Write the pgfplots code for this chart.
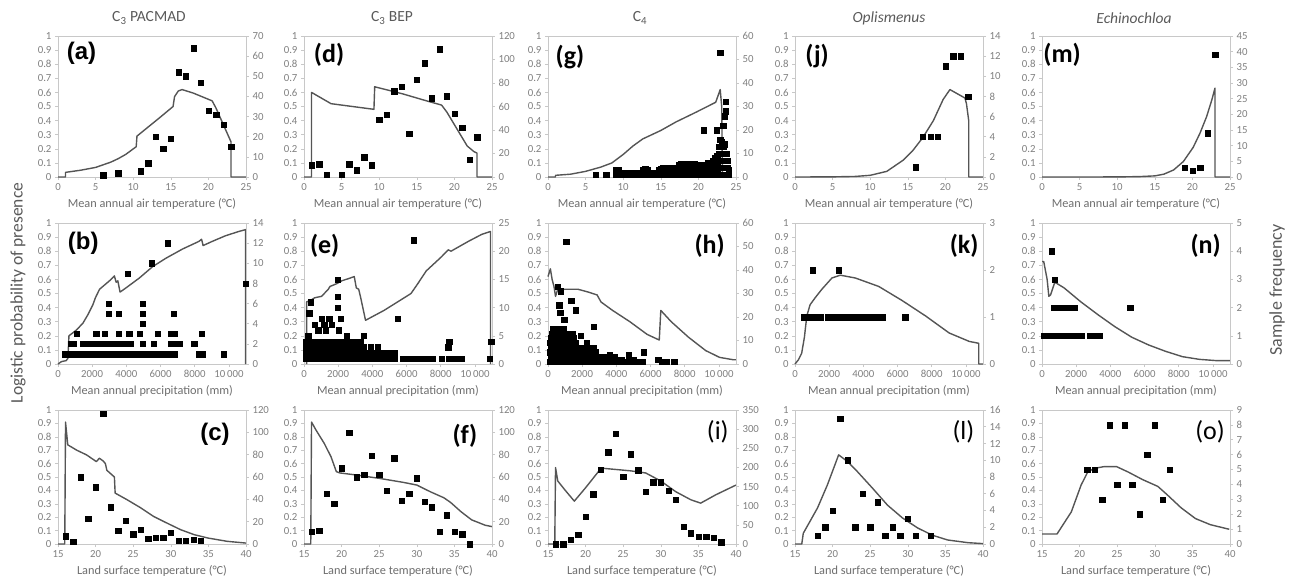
\documentclass[border=0pt]{standalone}
\usepackage{fontspec}
\setmainfont{Carlito}
\newfontfamily\arial{Liberation Sans}
\usepackage{pgfplots}
\pgfplotsset{compat=1.18}
\definecolor{axgray}{HTML}{C8C8C8}
\definecolor{tickgray}{HTML}{808080}
\definecolor{labgray}{HTML}{6E6E6E}
\definecolor{titlegray}{HTML}{5A5A5A}
\definecolor{linegray}{HTML}{555555}
\newcommand\ticksize{\fontsize{10.8}{12}\selectfont}
\newcommand\labsize{\fontsize{12.3}{14}\selectfont}
\tikzset{
 labA/.style={font=\arial\bfseries\fontsize{24}{28}\selectfont, anchor=center},
 labB/.style={font=\bfseries\fontsize{26}{30}\selectfont, anchor=center},
 labC/.style={font=\fontsize{26}{30}\selectfont, anchor=center},
}
\pgfplotsset{
 common/.style={scale only axis, width=188pt, anchor=south west, clip=false, ymin=0,
   axis line style={draw=axgray, line width=0.9pt},
   tick style={draw=axgray, line width=0.6pt}, tick align=outside, major tick length=3pt,
   tick label style={font=\ticksize, text=tickgray},
   /pgf/number format/fixed, /pgf/number format/assume math mode=true, scaled ticks=false},
 L/.style={common, ymax=1, ytick={0,0.1,0.2,0.3,0.4,0.5,0.6,0.7,0.8,0.9,1}, tick pos=left,
   xlabel style={font=\labsize, text=labgray, at={(axis description cs:0.5,0)}, anchor=center, yshift=-27pt}},
 R/.style={common, hide x axis, axis y line*=right},
 row1/.style={height=141pt, xmin=0, xmax=25, xtick={0,5,10,15,20,25}},
 row2/.style={height=141pt, xmin=0, xmax=11000, xtick={0,2000,4000,6000,8000,10000}, xticklabels={0,2000,4000,6000,8000,10\,000}},
 row3/.style={height=134pt, xmin=15, xmax=40, xtick={15,20,25,30,35,40}},
 ln/.style={draw=linegray, line width=1.4pt, mark=none, line join=round},
 pt/.style={only marks, mark=square*, mark size=2.7pt, mark options={fill=black, draw=black, line width=0.2pt}},
}
\begin{document}
\begin{tikzpicture}
\path[use as bounding box] (0,0) rectangle (1290pt,-582pt);
\begin{scope}[every node/.style={font=\fontsize{15.5}{17}\selectfont, text=titlegray}]
\node at (149pt,-18pt) {C\textsubscript{3} PACMAD};
\node at (392pt,-18pt) {C\textsubscript{3} BEP};
\node at (640pt,-18pt) {C\textsubscript{4}};
\node at (889pt,-18pt) {\itshape Oplismenus};
\node at (1134pt,-18pt) {\itshape Echinochloa};
\end{scope}
\node[rotate=90, font=\fontsize{17.5}{20}\selectfont, text=titlegray] at (18pt,-293pt) {Logistic probability of presence};
\node[rotate=90, font=\fontsize{18}{20}\selectfont, text=titlegray] at (1277pt,-290pt) {Sample frequency};

% ---------- (a)
\begin{axis}[L,row1,at={(58pt,-177pt)},xlabel={Mean annual air temperature (°C)}]
\addplot[ln] coordinates {(0,0)(1,0)(1,0.033)(3,0.048)(5,0.068)(7,0.105)(8,0.13)(9,0.16)(10.4,0.215)(10.5,0.29)(12,0.355)(13.5,0.42)(15.3,0.5)(15.5,0.57)(16,0.61)(16.5,0.62)(18,0.595)(20.5,0.54)(21,0.49)(21.5,0.43)(22,0.37)(22.5,0.31)(23,0.25)(23,0)(25,0)};
\node[labA] at (rel axis cs:0.125,0.88) {(a)};
\end{axis}
\begin{axis}[R,row1,at={(58pt,-177pt)},ymax=70,ytick distance=10]
\addplot[pt] coordinates {(6,1)(8,2)(11,3)(12,7)(13,20)(14,14)(15,19)(16,52)(17,50)(18,64)(19,47)(20,33)(21,31)(22,26)(23,15)};
\end{axis}
% ---------- (b)
\begin{axis}[L,row2,at={(58pt,-364pt)},xlabel={Mean annual precipitation (mm)}]
\addplot[ln] coordinates {(0,0)(200,0.017)(480,0.024)(580,0.04)(640,0.2)(1070,0.24)(1460,0.29)(1750,0.35)(2040,0.42)(2190,0.47)(2430,0.53)(2720,0.56)(3010,0.59)(3300,0.625)(3400,0.58)(3500,0.59)(3630,0.51)(3980,0.54)(4760,0.61)(5530,0.69)(6310,0.75)(7280,0.815)(8250,0.87)(8400,0.885)(8490,0.84)(9030,0.87)(9810,0.91)(10580,0.94)(10970,0.953)(10970,0)};
\node[labA] at (rel axis cs:0.134,0.856) {(b)};
\end{axis}
\begin{axis}[R,row2,at={(58pt,-364pt)},ymax=14,ytick distance=2]
\addplot[pt] coordinates {(400,1)(600,1)(800,1)(1000,1)(1200,1)(1400,1)(1600,1)(1800,1)(2000,1)(2200,1)(2400,1)(2600,1)(2800,1)(3000,1)(3200,1)(3400,1)(3600,1)(3800,1)(4000,1)(4200,1)(4400,1)(4600,1)(4800,1)(5000,1)(5200,1)(5400,1)(5600,1)(5800,1)(6000,1)(6200,1)(6400,1)(6550,1)(6800,1)(8250,1)(8450,1)(9700,1)
(720,2)(910,2)(1460,2)(1660,2)(1860,2)(2060,2)(2260,2)(2460,2)(2660,2)(2860,2)(3060,2)(3260,2)(3460,2)(3660,2)(3860,2)(4060,2)(4210,2)(4950,2)(5590,2)(6600,2)(6850,2)(7090,2)(7960,2)
(1100,3)(2230,3)(2720,3)(3550,3)(4170,3)(4760,3)(5830,3)(6600,3)(6800,3)(8390,3)
(4950,4)(2970,5)(3550,5)(4950,5)(6760,5)(2970,6)(4950,6)(4080,9)(5460,10)(6410,12)(10970,8)};
\end{axis}
% ---------- (c)
\begin{axis}[L,row3,at={(58pt,-544pt)},xlabel={Land surface temperature (°C)}]
\addplot[ln] coordinates {(15,0)(15.9,0)(16,0.91)(16.3,0.74)(17.5,0.70)(18.8,0.665)(20.1,0.615)(20.5,0.64)(21,0.62)(21.3,0.60)(21.5,0.55)(22.1,0.52)(22.5,0.5)(22.6,0.38)(24.2,0.33)(26,0.27)(27.7,0.206)(29.5,0.156)(31.3,0.107)(33.1,0.07)(34.9,0.045)(37.5,0.02)(40,0.007)};
\node[labA] at (rel axis cs:0.835,0.82) {(c)};
\end{axis}
\begin{axis}[R,row3,at={(58pt,-544pt)},ymax=120,ytick distance=20]
\addplot[pt] coordinates {(16,7)(17,2)(18,60)(19,23)(20,51)(21,117)(22,33)(23,12)(24,21)(25,9)(26,13)(27,5)(28,6)(29,6)(30,10)(31,3)(32,3)(33,4)(34,3)};
\end{axis}
% ---------- (d)
\begin{axis}[L,row1,at={(304pt,-177pt)},xlabel={Mean annual air temperature (°C)}]
\addplot[ln] coordinates {(0,0)(1,0)(1,0.6)(3.6,0.52)(9.3,0.48)(9.4,0.64)(13.1,0.59)(16.3,0.54)(18.3,0.51)(19,0.46)(19.9,0.38)(20.8,0.30)(21.7,0.22)(22.6,0.18)(23,0.17)(23,0)(25,0)};
\node[labB] at (rel axis cs:0.133,0.865) {(d)};
\end{axis}
\begin{axis}[R,row1,at={(304pt,-177pt)},ymax=120,ytick distance=20]
\addplot[pt] coordinates {(1,10)(2,11)(3,2)(5,2)(6,11)(7,6)(8,17)(9,10)(10,49)(11,53)(12,73)(13,77)(14,37)(15,83)(16,97)(17,67)(18,109)(19,69)(20,54)(21,42)(22,15)(23,34)};
\end{axis}
% ---------- (e)
\begin{axis}[L,row2,at={(304pt,-364pt)},xlabel={Mean annual precipitation (mm)}]
\addplot[ln] coordinates {(150,0)(150,0.44)(430,0.455)(630,0.47)(1030,0.48)(1420,0.53)(1520,0.55)(1920,0.57)(2210,0.59)(2710,0.61)(2940,0.62)(3060,0.54)(3200,0.53)(3300,0.48)(3600,0.31)(4680,0.38)(5670,0.455)(6260,0.50)(6660,0.57)(7150,0.66)(8040,0.76)(8440,0.81)(8600,0.80)(9620,0.87)(10410,0.92)(10910,0.94)(10910,0)};
\node[labB] at (rel axis cs:0.11,0.84) {(e)};
\end{axis}
\begin{axis}[R,row2,at={(304pt,-364pt)},ymax=25,ytick distance=5]
\addplot[pt] coordinates {(100,1)(300,1)(500,1)(700,1)(900,1)(1100,1)(1300,1)(1500,1)(1700,1)(1900,1)(2100,1)(2300,1)(2500,1)(2700,1)(2900,1)(3100,1)(3300,1)(3500,1)(3700,1)(3900,1)(4100,1)(4300,1)(4500,1)(4700,1)(4900,1)(5100,1)(5300,1)(5800,1)(6000,1)(6200,1)(6400,1)(6600,1)(6800,1)(7100,1)(7300,1)(7500,1)(8040,1)(8450,1)(8650,1)(8850,1)(9050,1)(9200,1)(10850,1)
(100,2)(300,2)(500,2)(700,2)(900,2)(1100,2)(1300,2)(1500,2)(1700,2)(1900,2)(2100,2)(2300,2)(2500,2)(2700,2)(2900,2)(3100,2)(3300,2)(3500,2)(3700,2)(3900,2)(4100,2)(4300,2)(4500,2)(4700,2)(4900,2)(5100,2)(5300,2)
(100,3)(300,3)(500,3)(700,3)(900,3)(1100,3)(1300,3)(1500,3)(1700,3)(1900,3)(2100,3)(2300,3)(2500,3)(2700,3)(2900,3)(3100,3)(3300,3)(3500,3)(3900,3)(4300,3)
(100,4)(300,4)(500,4)(700,4)(900,4)(1100,4)(1300,4)(1500,4)(1700,4)(1900,4)(2100,4)(2300,4)(2500,4)(2700,4)(2900,4)(3100,4)(3300,4)
(240,5)(2500,5)(3500,5)(300,9)(400,11)(630,7)(830,6)(1030,8)(1170,7)(1280,6)(1480,8)(1620,7)(1960,15)(1960,12)(1960,10)(2020,6)(2150,8)(5470,8)(6420,22)(8440,3)(8480,4)(10950,4)};
\end{axis}
% ---------- (f)
\begin{axis}[L,row3,at={(304pt,-544pt)},xlabel={Land surface temperature (°C)}]
\addplot[ln] coordinates {(15,0)(15.9,0)(16,0.91)(16.6,0.85)(17.7,0.75)(18.6,0.65)(19.3,0.54)(19.8,0.53)(21.8,0.516)(25,0.49)(28.2,0.46)(30,0.44)(31.8,0.39)(33.6,0.345)(34.5,0.31)(35.9,0.24)(37.3,0.18)(39.1,0.14)(40,0.13)};
\node[labB] at (rel axis cs:0.856,0.81) {(f)};
\end{axis}
\begin{axis}[R,row3,at={(304pt,-544pt)},ymax=120,ytick distance=20]
\addplot[pt] coordinates {(16,11)(17,12)(18,45)(19,36)(20,68)(21,100)(22,60)(23,62)(24,79)(25,62)(26,48)(27,77)(28,39)(29,45)(30,59)(31,38)(32,33)(33,11)(34,26)(35,11)(36,9)(37,0)};
\end{axis}
% ---------- (g)
\begin{axis}[L,row1,at={(548pt,-177pt)},xlabel={Mean annual air temperature (°C)}]
\addplot[ln] coordinates {(0,0)(1,0)(1,0.012)(3,0.02)(5,0.04)(7,0.07)(8.5,0.1)(10,0.16)(11.3,0.22)(12.6,0.27)(15,0.33)(17,0.39)(19.7,0.46)(22.3,0.53)(22.9,0.62)(23.1,0.5)(23.2,0)};
\node[labB] at (rel axis cs:0.117,0.85) {(g)};
\end{axis}
\begin{axis}[R,row1,at={(548pt,-177pt)},ymax=60,ytick distance=10]
\addplot[pt] coordinates {(6.3,1)(7.7,1)
(9.0,1)(9.0,3)(9.3,1)(9.3,3)(9.6,1)(9.9,1)(9.9,2)(10.2,1)(10.5,1)(10.5,2)(10.8,1)(11.1,1)(11.1,2)(11.4,1)(11.7,1)(11.7,2)(12.0,1)(12.3,1)(12.3,2)(12.6,1)(12.6,3)(12.9,1)(12.9,3.5)(13.2,1)(13.2,3)(13.5,1)(13.5,2)(13.8,1)(13.8,2)(14.1,1)(14.1,2)(14.4,1)(14.4,2)(14.7,1)(14.7,3)(15.0,1)(15.0,3.5)(15.3,1)(15.3,4)(15.6,1)(15.6,3)(15.9,1)(15.9,4)(16.2,1)(16.2,3)(16.5,1)(16.5,4)(16.8,1)(16.8,3)(17.1,1)(17.1,4)(17.4,1)(17.4,5)(17.7,1)(17.7,3)(17.7,5.5)(18.0,1)(18.0,3)(18.0,5)(18.3,1)(18.3,4)(18.6,1)(18.6,3)(18.6,5.5)(18.9,1)(18.9,3)(18.9,5.5)(19.2,1)(19.2,3)(19.2,5)(19.5,1)(19.5,3)(19.5,5.5)(19.8,1)(19.8,3)(19.8,5)(20.1,1)(20.1,3)(20.1,5)(20.4,1)(20.4,3)(20.4,5)(20.7,1)(20.7,3)(20.7,5)(21.0,1)(21.0,3)(21.0,5)(21.3,1)(21.3,3)(21.3,6)(21.6,1)(21.6,3)(21.6,6)(21.9,1)(21.9,3)(21.9,5)(21.9,7)(22.2,1)(22.2,3)(22.2,6)(22.2,8)(22.5,1)(22.5,3)(22.5,6)(22.5,9)(22.7,1)(22.7,4)(22.7,7)(22.7,10)(22.7,13)(22.9,1)(22.9,4)(22.9,7)(22.9,10)(22.9,13)(22.9,16)(23.1,1)(23.1,4)(23.1,7)(23.1,10)(23.1,13)(23.1,15)(23.3,1)(23.3,4)(23.3,7)(23.3,10)(23.3,13)(23.5,1)(23.5,4)(23.5,7)(23.5,10)(23.5,14)(23.7,1)(23.7,4)(23.7,7)(23.7,10)(23.9,1)(23.9,4)(23.9,7)(24.0,1)(24.0,3)
(20.7,20)(22.4,20)(22.9,53)(23.3,22)(23.5,26)(23.6,28)(23.6,32)};
\end{axis}
% ---------- (h)
\begin{axis}[L,row2,at={(548pt,-364pt)},xlabel={Mean annual precipitation (mm)}]
\addplot[ln] coordinates {(0,0.62)(140,0.675)(240,0.6)(350,0.55)(440,0.48)(545,0.52)(950,0.53)(1760,0.53)(2360,0.51)(2870,0.49)(3010,0.46)(3100,0.44)(3780,0.38)(4790,0.30)(5800,0.21)(6510,0.17)(6600,0.38)(7210,0.30)(8220,0.19)(9230,0.095)(10040,0.047)(10850,0.03)(11000,0.03)};
\node[labB] at (rel axis cs:0.86,0.84) {(h)};
\end{axis}
\begin{axis}[R,row2,at={(548pt,-364pt)},ymax=60,ytick distance=10]
\addplot[pt] coordinates {(100,1)(250,1)(400,1)(550,1)(700,1)(850,1)(1000,1)(1150,1)(1300,1)(1450,1)(1600,1)(1750,1)
(150,3)(300,3)(450,3)(600,3)(750,3)(900,3)(1050,3)(1200,3)(1350,3)(1500,3)(1650,3)
(100,5)(250,5)(400,5)(550,5)(700,5)(850,5)(1000,5)(1150,5)(1300,5)(1450,5)(1600,5)(1750,5)
(150,7)(300,7)(450,7)(600,7)(750,7)(900,7)(1050,7)(1200,7)(1350,7)(1500,7)(1650,7)
(100,9)(250,9)(400,9)(550,9)(700,9)(850,9)(1000,9)(1150,9)(1300,9)(1450,9)(1600,9)
(150,11)(300,11)(450,11)(600,11)(750,11)(900,11)(1050,11)(1200,11)(1350,11)(1500,11)
(250,13)(400,13)(550,13)(700,13)(850,13)(1000,13)(1300,13)(1450,13)(650,15)(900,15)
(1900,1)(2050,1)(2200,1)(2350,1)(2500,1)(2650,1)(2800,1)(2950,1)
(1950,3)(2100,3)(2250,3)(2400,3)(2550,3)(2700,3)(2850,3)
(1900,5)(2050,5)(2200,5)(2350,5)(2500,5)(2650,5)(2800,5)
(1950,7)(2100,7)(2350,7)(2650,7)(2250,9)
(3100,1)(3250,1)(3400,1)(3550,1)(3700,1)(3850,1)(4000,1)(3150,3)(3300,3)(3450,3)(3600,4)(3750,3)(3900,3)(4050,2)
(4150,1)(4300,1)(4450,1)(4600,1)(4750,1)(4900,1)(5100,1)(4300,2)(4750,2)(5000,2)(5300,1)(5500,1)
(545,33)(750,31)(650,25)(700,22)(950,19)(1350,27)(1600,23)(1110,13)(1920,12)(2670,16)(1050,52)(300,15)(4700,4)(5600,5)(6450,2)(6650,1)(6900,1)(7370,1)};
\end{axis}
% ---------- (i)
\begin{axis}[L,row3,at={(548pt,-544pt)},xlabel={Land surface temperature (°C)}]
\addplot[ln] coordinates {(15,0)(15.9,0)(16,0.57)(16.3,0.47)(17.3,0.40)(18.5,0.32)(20,0.42)(21.7,0.54)(22.3,0.565)(23.3,0.56)(26,0.546)(28,0.53)(30,0.47)(32,0.39)(34,0.33)(35.3,0.305)(37.3,0.367)(40,0.44)};
\node[labC] at (rel axis cs:0.903,0.84) {(i)};
\end{axis}
\begin{axis}[R,row3,at={(548pt,-544pt)},ymax=350,ytick distance=50]
\addplot[pt] coordinates {(16,0)(17,0)(18,11)(19,24)(20,72)(21,130)(22,195)(23,240)(24,289)(25,176)(26,235)(27,193)(28,137)(29,162)(30,162)(31,139)(32,116)(33,46)(34,29)(35,20)(36,20)(37,16)(38,5)};
\end{axis}
% ---------- (j)
\begin{axis}[L,row1,at={(795pt,-177pt)},xlabel={Mean annual air temperature (°C)}]
\addplot[ln] coordinates {(0,0)(5,0.001)(8,0.004)(10,0.012)(12.2,0.04)(14.4,0.12)(15.7,0.19)(17,0.28)(18.4,0.40)(19.7,0.55)(20.6,0.62)(22.6,0.56)(22.8,0.52)(23.1,0.40)(23.1,0)(25,0)};
\node[labB] at (rel axis cs:0.117,0.86) {(j)};
\end{axis}
\begin{axis}[R,row1,at={(795pt,-177pt)},ymax=14,ytick distance=2]
\addplot[pt] coordinates {(16,1)(17,4)(18,4)(19,4)(20,11)(21,12)(22,12)(23,8)};
\end{axis}
% ---------- (k)
\begin{axis}[L,row2,at={(795pt,-364pt)},xlabel={Mean annual precipitation (mm)}]
\addplot[ln] coordinates {(0,0)(200,0.03)(390,0.076)(550,0.19)(690,0.34)(880,0.42)(1180,0.47)(1570,0.53)(2160,0.61)(2650,0.63)(3530,0.61)(4900,0.55)(6270,0.45)(7650,0.34)(9020,0.22)(10200,0.16)(10750,0.147)(10750,0)(11000,0)};
\node[labB] at (rel axis cs:0.9,0.84) {(k)};
\end{axis}
\begin{axis}[R,row2,at={(795pt,-364pt)},ymax=3,ytick distance=1]
\addplot[pt] coordinates {(500,1)(700,1)(900,1)(1100,1)(1300,1)(1500,1)(1900,1)(2100,1)(2300,1)(2500,1)(2700,1)(2900,1)(3100,1)(3300,1)(3500,1)(3700,1)(3900,1)(4100,1)(4500,1)(4700,1)(4900,1)(5100,1)(6430,1)(1040,2)(2550,2)};
\end{axis}
% ---------- (l)
\begin{axis}[L,row3,at={(795pt,-544pt)},xlabel={Land surface temperature (°C)}]
\addplot[ln] coordinates {(15,0)(15.9,0)(16.1,0.08)(17,0.17)(18,0.27)(19.3,0.44)(20.3,0.59)(20.8,0.665)(22,0.615)(23.3,0.54)(25.3,0.417)(27.3,0.29)(29.3,0.194)(31.3,0.12)(33.3,0.065)(35.3,0.03)(38,0.01)(40,0.003)};
\node[labC] at (rel axis cs:0.896,0.84) {(l)};
\end{axis}
\begin{axis}[R,row3,at={(795pt,-544pt)},ymax=16,ytick distance=2]
\addplot[pt] coordinates {(18,1)(19,2)(20,4)(21,15)(22,10)(23,2)(24,6)(25,2)(26,5)(27,1)(28,2)(29,1)(30,3)(31,1)(33,1)};
\end{axis}
% ---------- (m)
\begin{axis}[L,row1,at={(1042pt,-177pt)},xlabel={Mean annual air temperature (°C)}]
\addplot[ln] coordinates {(0,0)(10,0.0005)(13,0.003)(15,0.008)(16.2,0.02)(17.5,0.05)(18.8,0.11)(20.1,0.21)(21,0.31)(21.9,0.43)(22.6,0.55)(23,0.63)(23,0)(25,0)};
\node[labB] at (rel axis cs:0.107,0.865) {(m)};
\end{axis}
\begin{axis}[R,row1,at={(1042pt,-177pt)},ymax=45,ytick distance=5]
\addplot[pt] coordinates {(19,3)(20,2)(21,3)(22,14)(23,39)};
\end{axis}
% ---------- (n)
\begin{axis}[L,row2,at={(1042pt,-364pt)},xlabel={Mean annual precipitation (mm)}]
\addplot[ln] coordinates {(0,0.727)(100,0.727)(300,0.6)(400,0.48)(500,0.49)(750,0.58)(1290,0.54)(2280,0.44)(3270,0.35)(4260,0.265)(5250,0.19)(6240,0.135)(7230,0.09)(8220,0.052)(9210,0.033)(10200,0.024)(11000,0.024)};
\node[labB] at (rel axis cs:0.87,0.84) {(n)};
\end{axis}
\begin{axis}[R,row2,at={(1042pt,-364pt)},ymax=5,ytick distance=1]
\addplot[pt] coordinates {(100,1)(300,1)(500,1)(700,1)(900,1)(1100,1)(1300,1)(1500,1)(1700,1)(1900,1)(2100,1)(2300,1)(2770,1)(3170,1)(3370,1)(700,2)(900,2)(1100,2)(1300,2)(1500,2)(1700,2)(1880,2)(5150,2)(730,3)(550,4)};
\end{axis}
% ---------- (o)
\begin{axis}[L,row3,at={(1042pt,-544pt)},xlabel={Land surface temperature (°C)}]
\addplot[ln] coordinates {(15,0.075)(17,0.075)(18.9,0.24)(20.2,0.44)(21.1,0.54)(22,0.565)(23.3,0.578)(24.9,0.578)(26.5,0.536)(28.4,0.48)(30.4,0.43)(31.6,0.37)(33.5,0.27)(35.4,0.19)(37.4,0.144)(39.9,0.11)};
\node[labC] at (rel axis cs:0.894,0.84) {(o)};
\end{axis}
\begin{axis}[R,row3,at={(1042pt,-544pt)},ymax=9,ytick distance=1]
\addplot[pt] coordinates {(21,5)(22,5)(23,3)(24,8)(25,4)(26,8)(27,4)(28,2)(29,6)(30,8)(31,3)(32,5)};
\end{axis}
\end{tikzpicture}
\end{document}
